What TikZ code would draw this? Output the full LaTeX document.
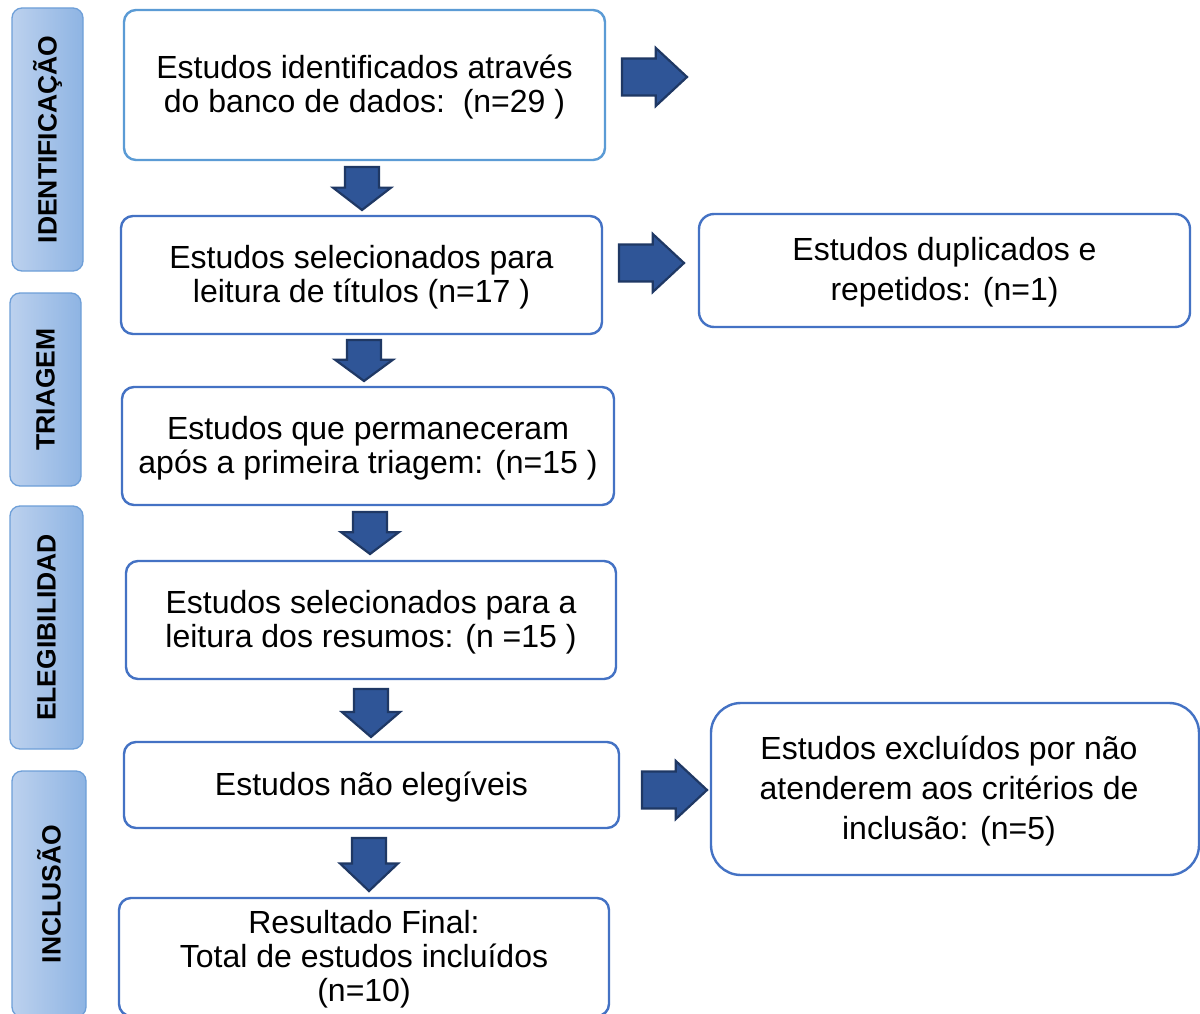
\documentclass[tikz,border=0pt]{standalone}
\usepackage{fontspec}
\setmainfont{Liberation Sans}
\definecolor{boxblue}{HTML}{4472C4}
\definecolor{boxlight}{HTML}{5B9BD5}
\definecolor{stageL}{HTML}{BCD1EE}
\definecolor{stageR}{HTML}{8EB4E3}
\definecolor{stageB}{HTML}{6E9FD8}
\definecolor{arrfill}{HTML}{2F5597}
\definecolor{arrdraw}{HTML}{1F3864}
\tikzset{
  box/.style={draw=boxblue, line width=2.4pt, rounded corners=12pt, fill=white,
    inner sep=0pt},
  boxtext/.style={align=center, font=\fontsize{32}{34}\selectfont},
  sidetext/.style={align=center, font=\fontsize{32}{40}\selectfont},
  stage/.style={draw=stageB, line width=1.3pt, rounded corners=10pt,
    left color=stageL, right color=stageR, inner sep=0pt,
    font=\fontsize{26.5}{30}\selectfont\bfseries},
  blockarrow/.style={fill=arrfill, draw=arrdraw, line width=2.2pt, line join=miter},
}
\newcommand{\dnarrow}[3]{%
  \draw[blockarrow] ({#1-17},#2) -- ({#1+17},#2) -- ({#1+17},{#2+0.48*#3})
    -- ({#1+29},{#2+0.48*#3}) -- (#1,{#2+#3}) -- ({#1-29},{#2+0.48*#3})
    -- ({#1-17},{#2+0.48*#3}) -- cycle;}
\newcommand{\rtarrow}[3]{%
  \draw[blockarrow] (#1,{#2-18.5}) -- ({#1+0.52*#3},{#2-18.5}) -- ({#1+0.52*#3},{#2-29})
    -- ({#1+#3},#2) -- ({#1+0.52*#3},{#2+29}) -- ({#1+0.52*#3},{#2+18.5})
    -- (#1,{#2+18.5}) -- cycle;}
\begin{document}
\begin{tikzpicture}[x=1pt,y=-1pt]
\useasboundingbox[fill=white] (0,0) rectangle (1200,1014);
% stage labels
\node[stage, minimum width=71pt, minimum height=263pt] (s1) at (47.5,139.5) {\rotatebox{90}{IDENTIFICAÇÃO}};
\node[stage, minimum width=71pt, minimum height=193pt] (s2) at (45.5,389.5) {\rotatebox{90}{TRIAGEM}};
\node[stage, minimum width=73pt, minimum height=243pt] (s3) at (46.5,627.5) {\rotatebox{90}{ELEGIBILIDAD}};
\node[stage, minimum width=74pt, minimum height=246pt] (s4) at (49,894) {\rotatebox{90}{INCLUSÃO}};
% main boxes
\node[box, draw=boxlight, minimum width=481pt, minimum height=150pt] (b1) at (364.5,85) {};
\node[boxtext] (t1) at ([yshift=-2pt]b1.center) {Estudos identificados através\\do banco de dados:\ \ (n=29 )};
\node[box, minimum width=481pt, minimum height=118pt] (b2) at (361.5,275) {};
\node[boxtext] (t2) at ([yshift=-2pt]b2.center) {Estudos selecionados para\\leitura de títulos (n=17 )};
\node[box, minimum width=492pt, minimum height=118pt] (b3) at (368,446) {};
\node[boxtext] (t3) at ([yshift=-2pt]b3.center) {Estudos que permaneceram\\após a primeira triagem: (n=15 )};
\node[box, minimum width=490pt, minimum height=118pt] (b4) at (371,620) {};
\node[boxtext] (t4) at ([yshift=-2pt]b4.center) {Estudos selecionados para a\\leitura dos resumos: (n =15 )};
\node[box, minimum width=495pt, minimum height=86pt] (b5) at (371.5,785) {};
\node[boxtext] (t5) at ([yshift=-2pt]b5.center) {Estudos não elegíveis};
\node[box, minimum width=490pt, minimum height=118pt] (b6) at (364,957) {};
\node[boxtext] (t6) at ([yshift=-2pt]b6.center) {Resultado Final:\\Total de estudos incluídos\\(n=10)};
% side boxes
\node[box, rounded corners=15pt, minimum width=491pt, minimum height=113pt] (r1) at (944.5,270.5) {};
\node[sidetext] (t7) at ([yshift=-2pt]r1.center) {Estudos duplicados e\\repetidos: (n=1)};
\node[box, rounded corners=30pt, minimum width=488pt, minimum height=172pt] (r2) at (955,789) {};
\node[sidetext] (t8) at ([xshift=-6pt,yshift=-2pt]r2.center) {Estudos excluídos por não\\atenderem aos critérios de\\inclusão: (n=5)};
% block arrows
\dnarrow{362}{167}{43}
\dnarrow{364}{340}{41}
\dnarrow{370}{512}{42}
\dnarrow{371}{689}{48}
\dnarrow{369}{838}{53}
\rtarrow{622}{77}{65}
\rtarrow{619}{263}{65}
\rtarrow{642}{790}{65}
\end{tikzpicture}
\end{document}
